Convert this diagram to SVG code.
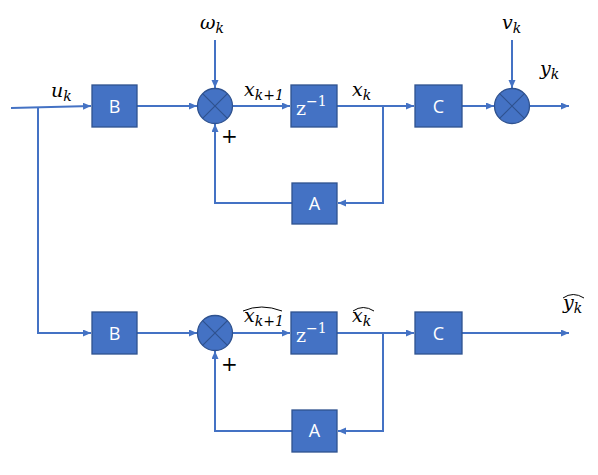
<svg xmlns="http://www.w3.org/2000/svg" width="598" height="475" viewBox="0 0 598 475">
<defs>
<marker id="ah" markerUnits="userSpaceOnUse" markerWidth="9" markerHeight="8" refX="8" refY="3.5" orient="auto">
<path d="M0,0 L8,3.5 L0,7 z" fill="#4472C4"/>
</marker>
<style>
.box{fill:#4472C4;stroke:#2F528F;stroke-width:1.3}
.sum{fill:#4472C4;stroke:#2F528F;stroke-width:1.3}
.cr{stroke:#2F528F;stroke-width:1.2}
.ln{fill:none;stroke:#4472C4;stroke-width:2}
.arr{marker-end:url(#ah)}
.hat{fill:none;stroke:#000;stroke-width:1}
</style>
</defs>
<g id="connectors">
<path class="ln arr" d="M11,108 L91,106"/>
<path class="ln arr" d="M38,107 V333 H91"/>
<path class="ln arr" d="M137,106 H197"/>
<path class="ln arr" d="M215,40 V88"/>
<path class="ln arr" d="M233,106 H290"/>
<path class="ln arr" d="M337,106 H414"/>
<path class="ln arr" d="M462,106 H494"/>
<path class="ln arr" d="M512,40 V88"/>
<path class="ln arr" d="M530,106 H569"/>
<path class="ln arr" d="M383,106 V203 H338"/>
<path class="ln arr" d="M292,203 H215 V124"/>
<path class="ln arr" d="M137,333 H197"/>
<path class="ln arr" d="M233,333 H290"/>
<path class="ln arr" d="M337,333 H414"/>
<path class="ln arr" d="M462,333 H569"/>
<path class="ln arr" d="M383,333 V431 H338"/>
<path class="ln arr" d="M292,431 H215 V351"/>
</g>
<g font-family="Open Sans, Liberation Sans, sans-serif" font-size="18" fill="#ffffff" text-anchor="middle">
<g id="B1"><rect class="box" x="92" y="85" width="45" height="42"/><text x="114.5" y="112.5">B</text></g>
<g id="C1"><rect class="box" x="415" y="85" width="47" height="42"/><text x="438.5" y="112.5">C</text></g>
<g id="A1"><rect class="box" x="292" y="183" width="45" height="41"/><text x="314.5" y="210">A</text></g>
<g id="B2"><rect class="box" x="92" y="312" width="45" height="42"/><text x="114.5" y="339.5">B</text></g>
<g id="C2"><rect class="box" x="415" y="312" width="47" height="42"/><text x="438.5" y="339.5">C</text></g>
<g id="A2"><rect class="box" x="292" y="410" width="45" height="42"/><text x="314.5" y="437">A</text></g>
</g>
<g id="sum1"><circle class="sum" cx="215" cy="106" r="17.5"/><path class="cr" d="M202.6,93.6 L227.4,118.4 M227.4,93.6 L202.6,118.4"/></g>
<g id="sum2"><circle class="sum" cx="512" cy="106" r="17.5"/><path class="cr" d="M499.6,93.6 L524.4,118.4 M524.4,93.6 L499.6,118.4"/></g>
<g id="sum3"><circle class="sum" cx="215" cy="333" r="17.5"/><path class="cr" d="M202.6,320.6 L227.4,345.4 M227.4,320.6 L202.6,345.4"/></g>
<g font-family="DejaVu Serif, serif" font-size="19" fill="#ffffff">
<g id="Z1"><rect class="box" x="291" y="85" width="46" height="42"/><text x="296" y="115">z<tspan dy="-9" font-size="14">−1</tspan></text></g>
<g id="Z2"><rect class="box" x="291" y="312" width="46" height="42"/><text x="296" y="342">z<tspan dy="-9" font-size="14">−1</tspan></text></g>
</g>
<g id="labels" font-family="DejaVu Serif, serif" font-style="italic" font-size="19" fill="#000000">
<text x="51" y="97">u<tspan font-size="14" dy="4">k</tspan></text>
<text x="200" y="29">ω<tspan font-size="14" dy="4">k</tspan></text>
<text x="244" y="96">x<tspan font-size="14" dy="4">k+1</tspan></text>
<text x="352" y="96">x<tspan font-size="14" dy="4">k</tspan></text>
<text x="502" y="29">v<tspan font-size="14" dy="4">k</tspan></text>
<text x="540" y="75">y<tspan font-size="14" dy="4">k</tspan></text>
<text x="244" y="322">x<tspan font-size="14" dy="4">k+1</tspan></text>
<path class="hat" d="M243,311 Q261,303 282,311"/>
<text x="352" y="322">x<tspan font-size="14" dy="4">k</tspan></text>
<path class="hat" d="M353,311 Q363,304 374,311"/>
<text x="563" y="309">y<tspan font-size="14" dy="4">k</tspan></text>
<path class="hat" d="M563,298 Q573,291 584,298"/>
</g>
<g font-family="DejaVu Serif, serif" font-size="20" fill="#000000">
<text x="221" y="143">+</text>
<text x="221" y="371">+</text>
</g>
</svg>
